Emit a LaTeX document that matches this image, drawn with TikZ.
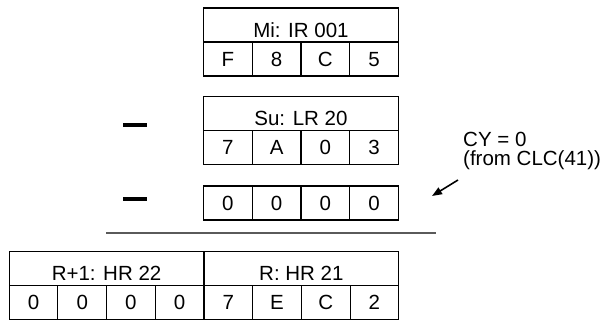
\documentclass[tikz,border=0pt]{standalone}
\usepackage{fontspec}
\setmainfont{Liberation Sans}
\usetikzlibrary{arrows.meta}
\definecolor{rulegray}{RGB}{90,90,90}
\begin{document}
\begin{tikzpicture}[x=1pt,y=-1pt,
  fnt/.style={font=\fontsize{20.5}{24}\selectfont},
  hdr/.style={draw, line width=1.1pt, inner sep=0pt, minimum height=34pt, text height=29pt, text depth=5pt, anchor=north west, fnt},
  cell/.style={draw, line width=1.1pt, inner sep=0pt, minimum width=48.7pt, minimum height=34pt, text height=14.7pt, text depth=0pt, anchor=north west, fnt},
  minus/.style={line width=4pt},
  rulestyle/.style={rulegray, line width=2.5pt},
  lbl/.style={fnt, anchor=base west, inner sep=0pt}
]
\useasboundingbox (0,0) rectangle (608,320);
% top box
\node[hdr, minimum width=194.8pt] (mi) at (203,7.5) {Mi: IR 001};
\foreach \t [count=\i from 0] in {F,8,C,5}
  \node[cell] (mi\i) at (203+48.7*\i,41.5) {\t};
% second box
\node[hdr, minimum width=194.8pt] (su) at (203,96) {Su: LR 20};
\foreach \t [count=\i from 0] in {7,A,0,3}
  \node[cell] (su\i) at (203+48.7*\i,130) {\t};
% carry box
\foreach \t [count=\i from 0] in {0,0,0,0}
  \node[cell] (cy\i) at (203+48.7*\i,185.5) {\t};
% minus signs
\coordinate (m1a) at (123,125.5); \coordinate (m1b) at (147,125.5);
\coordinate (m2a) at (123,199.5); \coordinate (m2b) at (147,199.5);
\draw[minus] (m1a) -- (m1b);
\draw[minus] (m2a) -- (m2b);
% rule
\coordinate (ra) at (106,233); \coordinate (rb) at (436,233);
\draw[rulestyle] (ra) -- (rb);
% result box
\node[hdr, minimum width=194.8pt] (rh1) at (8.6,251) {R+1: HR 22};
\node[hdr, minimum width=194.8pt] (rh0) at (203.4,251) {R: HR 21};
\foreach \t [count=\i from 0] in {0,0,0,0,7,E,C,2}
  \node[cell] (r\i) at (8.6+48.7*\i,285) {\t};
% carry note
\node[lbl] (cyt1) at (463,147) {CY = 0};
\node[lbl] (cyt2) at (463,166) {(from CLC(41))};
\coordinate (atail) at (458,180); \coordinate (ahead) at (432,196);
\draw[line width=1.6pt, -{Triangle[length=10pt,width=7.5pt]}] (atail) -- (ahead);
\end{tikzpicture}
\end{document}
